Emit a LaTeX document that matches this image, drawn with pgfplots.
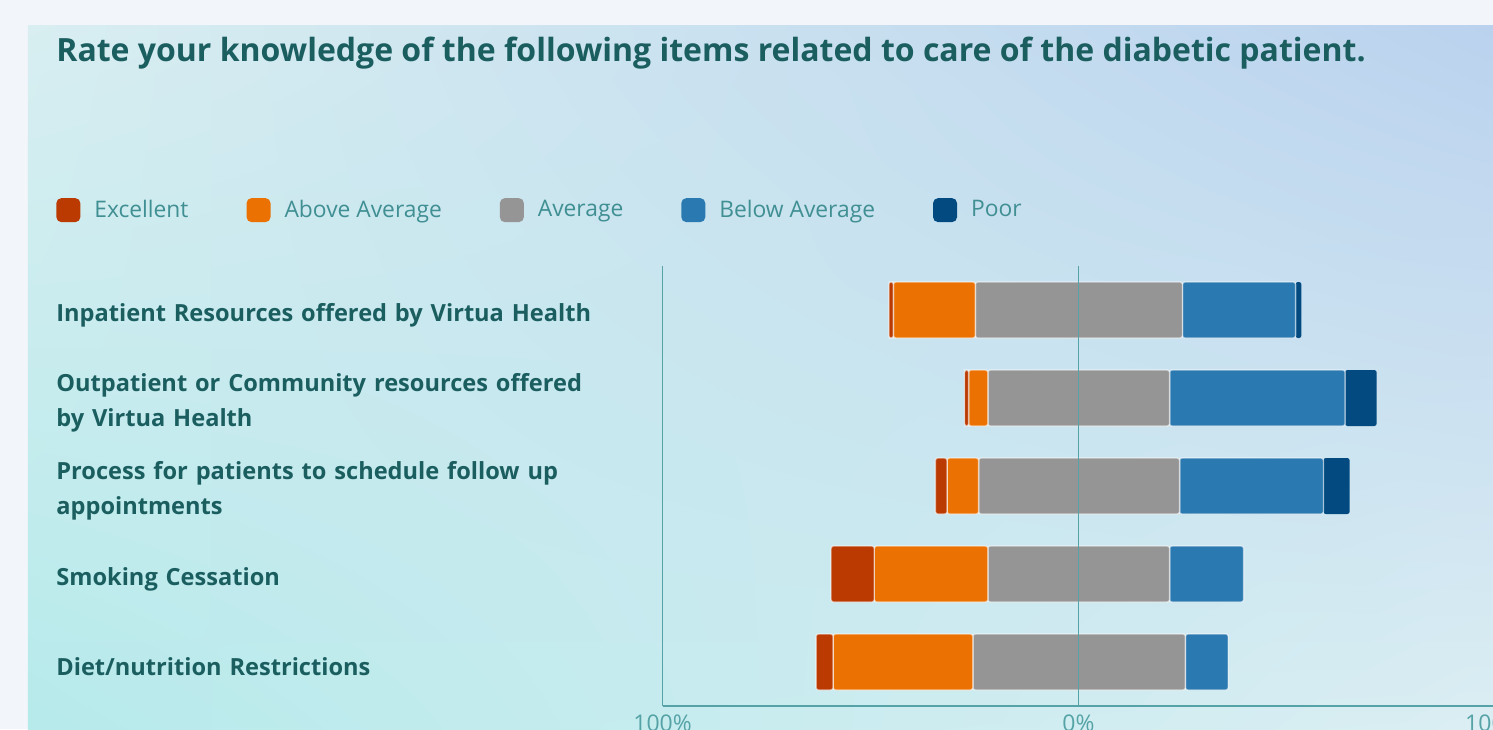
\documentclass[border=0pt]{standalone}
\usepackage{fontspec}
\setmainfont{Open Sans}
\usepackage{pgfplots}
\pgfplotsset{compat=1.18}
\usetikzlibrary{shadings}

\definecolor{cExc}{HTML}{BA3A02}
\definecolor{cAbove}{HTML}{EB7103}
\definecolor{cAvg}{HTML}{959595}
\definecolor{cBelow}{HTML}{2A79B1}
\definecolor{cPoor}{HTML}{024A80}
\definecolor{tealtext}{HTML}{1B5E60}
\definecolor{teallegend}{HTML}{3F8F93}
\definecolor{tealaxis}{HTML}{55A3A6}
\definecolor{outerbg}{HTML}{F2F6FB}
\definecolor{bgUL}{HTML}{D8EEF1}
\definecolor{bgUR}{HTML}{BAD2EE}
\definecolor{bgLL}{HTML}{B6EAEB}
\definecolor{bgLR}{HTML}{DBEEF3}

\begin{document}
\begin{tikzpicture}
% pixel frame: 1 px = 0.5pt, origin at top-left of the image
\begin{scope}[x=0.5pt,y=-0.5pt,shift={(-331.3pt,353pt)}]
  \fill[outerbg] (0,0) rectangle (1493,729);
  \shade[upper left=bgUL, upper right=bgUR, lower left=bgLL, lower right=bgLR]
        (28,26) rectangle (1493,729);
  \node[anchor=west, inner sep=0pt, text=tealtext, font=\fontsize{16}{18}\selectfont\bfseries]
    at (56,53) {Rate your knowledge of the following items related to care of the diabetic patient.};
\end{scope}

% x runs 0..200 here; 100 is the 0% line, so 0 and 200 are the two 100% ends
\begin{axis}[
    at={(0,0)}, anchor=south west,
    scale only axis,
    width=415.9pt, height=220pt,
    xbar stacked,
    bar width=28pt,
    xmin=0, xmax=200,
    ymin=-0.5, ymax=4.5,
    axis on top,
    axis lines=left,
    axis line style={-, draw=tealaxis, line width=0.9pt},
    xtick={0,100,200},
    xticklabels={100\%,0\%,100\%},
    xmajorgrids=true,
    grid style={draw=tealaxis, line width=0.9pt},
    major tick length=0pt,
    xticklabel style={text=tealaxis, font=\fontsize{11.5}{13}\selectfont, inner sep=0pt, yshift=-4pt},
    ytick={0,1,2,3,4},
    yticklabels={
      Diet/nutrition Restrictions,
      Smoking Cessation,
      {Process for patients to schedule follow up\\appointments},
      {Outpatient or Community resources offered\\by Virtua Health},
      Inpatient Resources offered by Virtua Health},
    yticklabel style={anchor=west, xshift=-303.3pt, yshift=-2.5pt, align=left, text width=295pt,
      inner sep=0pt, text=tealtext, font=\fontsize{11.8}{17.5}\selectfont\bfseries},
    legend style={at={(-0.7293,1.127)}, anchor=west, draw=none, fill=none,
      inner sep=0pt, legend columns=-1,
      nodes={inner sep=0pt, text=teallegend, font=\fontsize{11.4}{13}\selectfont},
      /tikz/every odd column/.append style={column sep=7pt},
      /tikz/every even column/.append style={column sep=29pt}},
    legend image code/.code={\fill[#1, draw=none, rounded corners=2.5pt] (0pt,-6pt) rectangle (12pt,6pt);},
    every axis plot/.append style={draw=white, draw opacity=0.55, line width=0.7pt, rounded corners=1.2pt},
]
% invisible offset so the Average segment is centred on the 0% line
\addplot[draw=none, fill=none] coordinates {(36.9,0) (40.5,1) (65.6,2) (72.6,3) (54.4,4)};
\addplot[fill=cExc] coordinates {(4.1,0) (10.4,1) (2.8,2) (1.0,3) (1.1,4)};
\addplot[fill=cAbove] coordinates {(33.6,0) (27.3,1) (7.6,2) (4.6,3) (19.7,4)};
\addplot[fill=cAvg] coordinates {(51.1,0) (43.7,1) (48.3,2) (43.7,3) (49.8,4)};
\addplot[fill=cBelow] coordinates {(10.3,0) (17.8,1) (34.6,2) (42.2,3) (27.2,4)};
\addplot[fill=cPoor, draw=none] coordinates {(0,0) (0,1) (6.3,2) (7.6,3) (1.4,4)};
\legend{,Excellent,Above Average,Average,Below Average,Poor}
\end{axis}

\pgfresetboundingbox
\begin{scope}[x=0.5pt,y=-0.5pt,shift={(-331.3pt,353pt)}]
  \useasboundingbox (0,0) rectangle (1493,729);
\end{scope}
\end{tikzpicture}
\end{document}
